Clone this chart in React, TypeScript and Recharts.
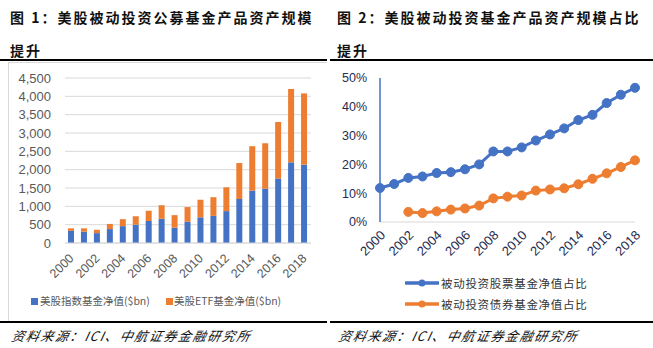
import React from 'react';
import { BarChart, Bar, XAxis, YAxis, CartesianGrid, LineChart, Line } from 'recharts';

const years = ['2000','2001','2002','2003','2004','2005','2006','2007','2008','2009','2010','2011','2012','2013','2014','2015','2016','2017','2018'];
const indexFundValues = [330,310,270,380,460,500,600,660,420,580,700,740,870,1200,1430,1480,1760,2200,2140];
const etfFundValues = [70,90,90,140,190,230,280,370,340,400,480,510,650,980,1210,1240,1540,2000,1940];
const stockShare = [11.8,13.2,15.3,15.8,17.0,17.3,18.3,20.0,24.5,24.5,25.9,28.3,30.4,32.5,35.4,37.2,41.3,44.2,46.6];
const bondShare: (number | null)[] = [null,null,3.5,3.1,3.7,4.3,4.7,5.7,8.2,8.8,9.2,10.9,11.3,11.7,13.1,15.0,16.9,19.1,21.4];
const leftTicks = [0,500,1000,1500,2000,2500,3000,3500,4000,4500];
const rightTicks = [0,10,20,30,40,50];

const title1a = '图 1：美股被动投资公募基金产品资产规模';
const title1b = '提升';
const title2a = '图 2：美股被动投资基金产品资产规模占比';
const title2b = '提升';
const sourceText = '资料来源：ICI、中航证券金融研究所';
const legendLeft = ['美股指数基金净值($bn)', '美股ETF基金净值($bn)'];
const legendRight = ['被动投资股票基金净值占比', '被动投资债券基金净值占比'];

const BLUE = '#4472C4';
const ORANGE = '#ED7D31';
const NUM_FONT = '"Liberation Sans", Arial, sans-serif';
const CJK_FONT = '"Noto Sans CJK SC", "Liberation Sans", sans-serif';

const barData = years.map((y, i) => ({ year: y, index: indexFundValues[i], etf: etfFundValues[i] }));
const lineData = years.map((y, i) => ({ year: y, stock: stockShare[i], bond: bondShare[i] }));

const LeftYTick = (props: any) => {
  const { x, y, payload } = props;
  return (
    <text x={x} y={y} dy="0.35em" textAnchor="end" fill="#595959" fontSize={13} fontFamily={NUM_FONT}>
      {Number(payload.value).toLocaleString('en-US')}
    </text>
  );
};

const LeftXTick = (props: any) => {
  const { x, y, payload } = props;
  const ax = x + 3;
  const ay = y + 16;
  return (
    <text x={ax} y={ay} transform={`rotate(-45 ${ax} ${ay})`} textAnchor="end" fill="#595959" fontSize={12.5} fontFamily={NUM_FONT}>
      {payload.value}
    </text>
  );
};

const RightYTick = (props: any) => {
  const { x, y, payload } = props;
  return (
    <text x={x} y={y} dy="0.35em" textAnchor="end" fill="#1F2D50" fontSize={12.5} fontFamily={NUM_FONT}>
      {payload.value}%
    </text>
  );
};

const RightXTick = (props: any) => {
  const { x, y, payload } = props;
  const ax = x + 6;
  const ay = y + 14;
  return (
    <text x={ax} y={ay} transform={`rotate(-45 ${ax} ${ay})`} textAnchor="end" fill="#1F2D50" fontSize={13} fontFamily={NUM_FONT}>
      {payload.value}
    </text>
  );
};

const titleStyle: React.CSSProperties = {
  position: 'absolute',
  fontFamily: CJK_FONT,
  fontWeight: 700,
  fontSize: 14,
  letterSpacing: 2,
  color: '#111',
  whiteSpace: 'nowrap',
  lineHeight: '16px',
};

const sourceStyle: React.CSSProperties = {
  position: 'absolute',
  fontFamily: CJK_FONT,
  fontStyle: 'italic',
  fontSize: 13,
  letterSpacing: 1.6,
  color: '#111',
  whiteSpace: 'nowrap',
  lineHeight: '16px',
  transform: 'skewX(-12deg)',
  transformOrigin: 'left bottom',
};

export default function App() {
  return (
    <div style={{ position: 'absolute', left: 0, top: 0, width: 653, height: 348, background: '#fff', overflow: 'hidden' }}>
      {/* Titles */}
      <div style={{ ...titleStyle, left: 10, top: 9 }}>{title1a}</div>
      <div style={{ ...titleStyle, left: 10, top: 42 }}>{title1b}</div>
      <div style={{ ...titleStyle, left: 337, top: 9 }}>{title2a}</div>
      <div style={{ ...titleStyle, left: 337, top: 42 }}>{title2b}</div>

      {/* Rules */}
      <div style={{ position: 'absolute', left: 0, top: 59, width: 327, height: 1.5, background: '#000' }} />
      <div style={{ position: 'absolute', left: 330, top: 59, width: 323, height: 1.5, background: '#000' }} />
      <div style={{ position: 'absolute', left: 0, top: 321, width: 327, height: 1.5, background: '#000' }} />
      <div style={{ position: 'absolute', left: 330, top: 321, width: 323, height: 1.5, background: '#000' }} />

      {/* Left frame */}
      <div style={{ position: 'absolute', left: 8, top: 62, width: 319, height: 259, borderLeft: '1px solid #d9d9d9', borderTop: '1px solid #d9d9d9', boxSizing: 'border-box' }} />

      {/* Left chart */}
      <div style={{ position: 'absolute', left: 8, top: 62 }}>
        <BarChart width={320} height={258} data={barData} margin={{ top: 16, right: 17, left: 0, bottom: 0 }} barSize={6}>
          <CartesianGrid vertical={false} stroke="#d9d9d9" strokeWidth={1} />
          <XAxis dataKey="year" interval={1} tickLine={false} tickSize={0} tickMargin={0} axisLine={{ stroke: '#d9d9d9' }} height={77} tick={<LeftXTick />} />
          <YAxis domain={[0, 4500]} ticks={leftTicks} interval={0} axisLine={false} tickLine={false} tickSize={0} tickMargin={14} width={57} tick={<LeftYTick />} />
          <Bar dataKey="index" stackId="a" fill={BLUE} isAnimationActive={false} />
          <Bar dataKey="etf" stackId="a" fill={ORANGE} isAnimationActive={false} />
        </BarChart>
      </div>

      {/* Left legend */}
      <div style={{ position: 'absolute', left: 31, top: 298, width: 7, height: 7, background: BLUE }} />
      <div style={{ position: 'absolute', left: 40, top: 293, fontFamily: CJK_FONT, fontSize: 10.5, color: '#595959', whiteSpace: 'nowrap', lineHeight: '16px' }}>{legendLeft[0]}</div>
      <div style={{ position: 'absolute', left: 166, top: 298, width: 7, height: 7, background: ORANGE }} />
      <div style={{ position: 'absolute', left: 174, top: 293, fontFamily: CJK_FONT, fontSize: 10.5, color: '#595959', whiteSpace: 'nowrap', lineHeight: '16px' }}>{legendLeft[1]}</div>

      {/* Right chart */}
      <div style={{ position: 'absolute', left: 330, top: 62 }}>
        <LineChart width={320} height={210} data={lineData} margin={{ top: 16, right: 15, left: 0, bottom: 0 }}>
          <XAxis dataKey="year" interval={1} tickLine={false} tickSize={0} tickMargin={0} axisLine={{ stroke: '#d9d9d9' }} height={50} tick={<RightXTick />} />
          <YAxis domain={[0, 50]} ticks={rightTicks} interval={0} axisLine={{ stroke: BLUE, strokeWidth: 1.5 }} tickLine={false} tickSize={0} tickMargin={13} width={50} tick={<RightYTick />} />
          <Line dataKey="stock" stroke={BLUE} strokeWidth={3} dot={{ r: 4.5, fill: BLUE, stroke: BLUE, strokeWidth: 1 }} isAnimationActive={false} />
          <Line dataKey="bond" stroke={ORANGE} strokeWidth={3} dot={{ r: 4.5, fill: ORANGE, stroke: ORANGE, strokeWidth: 1 }} isAnimationActive={false} />
        </LineChart>
      </div>

      {/* Right legend */}
      {[BLUE, ORANGE].map((c, i) => (
        <svg key={c} style={{ position: 'absolute', left: 405, top: 278 + i * 21 }} width={34} height={10}>
          <line x1={1} y1={5} x2={33} y2={5} stroke={c} strokeWidth={3.5} strokeLinecap="round" />
          <circle cx={17} cy={5} r={3.5} fill={c} />
        </svg>
      ))}
      {legendRight.map((t, i) => (
        <div key={t} style={{ position: 'absolute', left: 441, top: 275 + i * 21, fontFamily: CJK_FONT, fontSize: 11.5, letterSpacing: 0.7, color: '#333', whiteSpace: 'nowrap', lineHeight: '16px' }}>{t}</div>
      ))}

      {/* Sources */}
      <div style={{ ...sourceStyle, left: 10, top: 328 }}>{sourceText}</div>
      <div style={{ ...sourceStyle, left: 337, top: 328 }}>{sourceText}</div>
    </div>
  );
}
